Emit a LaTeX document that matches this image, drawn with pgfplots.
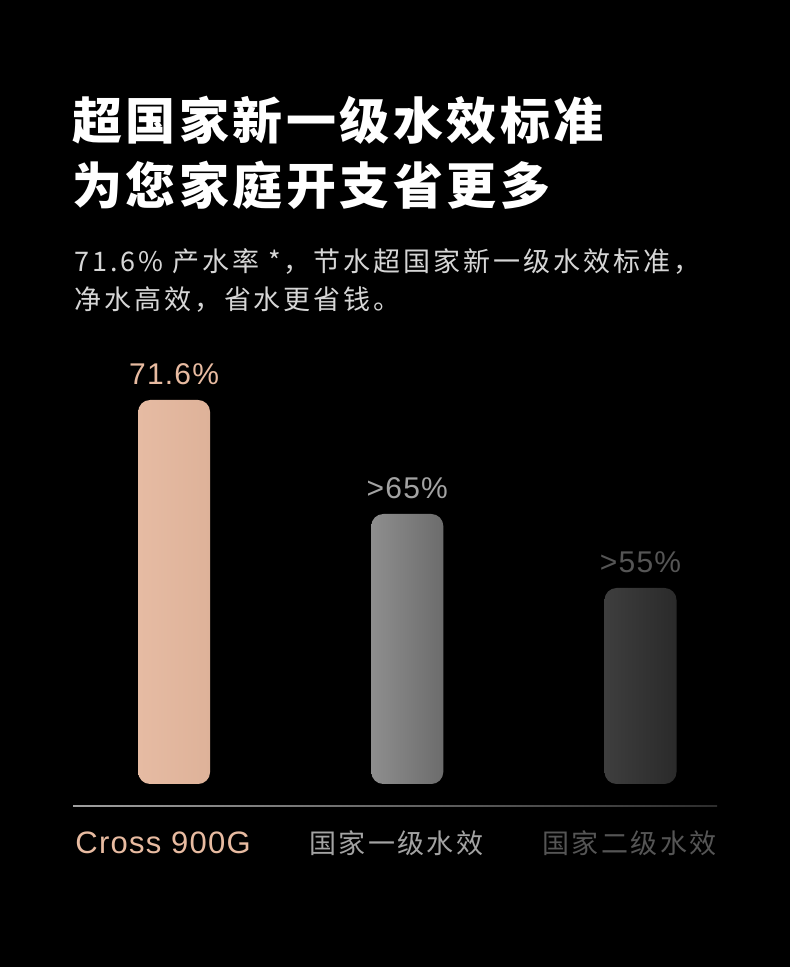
\documentclass[border=0pt]{standalone}
\usepackage{pgfplots}
\pgfplotsset{compat=1.18}
\usepackage{fontspec}
\setmainfont{Noto Sans CJK SC}
\newfontfamily\titlecjk{Noto Sans CJK SC}[LetterSpace=7]
\newfontfamily\subcjk{Noto Sans CJK SC}[LetterSpace=11]
\newfontfamily\catcjk{Noto Sans CJK SC}[LetterSpace=9]
\newfontfamily\lat{Liberation Sans}[LetterSpace=4]

\definecolor{peach}{HTML}{E8BBA1}
\definecolor{barA}{HTML}{E6BBA3}
\definecolor{barB}{HTML}{DEB299}
\definecolor{greyA}{HTML}{8E8E8E}
\definecolor{greyB}{HTML}{6C6C6C}
\definecolor{darkA}{HTML}{3E3E3E}
\definecolor{darkB}{HTML}{2A2A2A}
\definecolor{subgray}{HTML}{D6D6D6}
\definecolor{lab2}{HTML}{A3A3A3}
\definecolor{lab3}{HTML}{555555}

\begin{document}
\begin{tikzpicture}
\fill[black] (0,0) rectangle (790pt,967pt);

% headline and intro
\node[anchor=west, text=white, inner sep=0pt, font=\titlecjk\bfseries\fontsize{50}{60}\selectfont] at (72pt,847pt) {超国家新一级水效标准};
\node[anchor=west, text=white, inner sep=0pt, font=\titlecjk\bfseries\fontsize{50}{60}\selectfont] at (72pt,782pt) {为您家庭开支省更多};
\node[anchor=west, text=subgray, inner sep=0pt, font=\subcjk\fontsize{27}{32}\selectfont] at (74pt,705pt) {71.6\% 产水率 *，节水超国家新一级水效标准，};
\node[anchor=west, text=subgray, inner sep=0pt, font=\subcjk\fontsize{27}{32}\selectfont] at (74pt,667pt) {净水高效，省水更省钱。};

\begin{axis}[
    at={(73pt,161pt)}, anchor=south west,
    scale only axis, width=644pt, height=426pt,
    xmin=-0.4335, xmax=2.328, ymin=-22, ymax=404,
    clip=false,
    axis line style={draw=none},
    ytick=\empty,
    xtick={0,1,2},
    xticklabels={
      {\color{peach}\lat\fontsize{31}{36}\selectfont Cross 900G},
      {\color{lab2}\catcjk\fontsize{27}{32}\selectfont 国家一级水效},
      {\color{lab3}\catcjk\fontsize{27}{32}\selectfont 国家二级水效}},
    major tick length=0pt,
    xticklabel style={anchor=base, xshift=-11pt, yshift=-48pt},
    point meta=explicit symbolic,
    nodes near coords,
    nodes near coords style={anchor=base, yshift=15pt, font=\lat\fontsize{30}{35}\selectfont},
  ]
  % bar lengths as drawn (px), labels as printed
  \addplot[ybar, bar width=72pt, bar shift=0pt, draw=none, rounded corners=12pt,
    left color=barA, right color=barB,
    every node near coord/.append style={text=peach}]
    table[x=x, y=h, meta=lab] {
      x h lab
      0 384 71.6\%
    };
  \addplot[ybar, bar width=72pt, bar shift=0pt, draw=none, rounded corners=12pt,
    left color=greyA, right color=greyB,
    every node near coord/.append style={text=lab2}]
    table[x=x, y=h, meta=lab] {
      x h lab
      1 270 >65\%
    };
  \addplot[ybar, bar width=72pt, bar shift=0pt, draw=none, rounded corners=12pt,
    left color=darkA, right color=darkB,
    every node near coord/.append style={text=lab3}]
    table[x=x, y=h, meta=lab] {
      x h lab
      2 196 >55\%
    };
\end{axis}

\shade[left color=gray!75, right color=gray!35!black] (73pt,160.3pt) rectangle (717pt,161.7pt);
\end{tikzpicture}
\end{document}
